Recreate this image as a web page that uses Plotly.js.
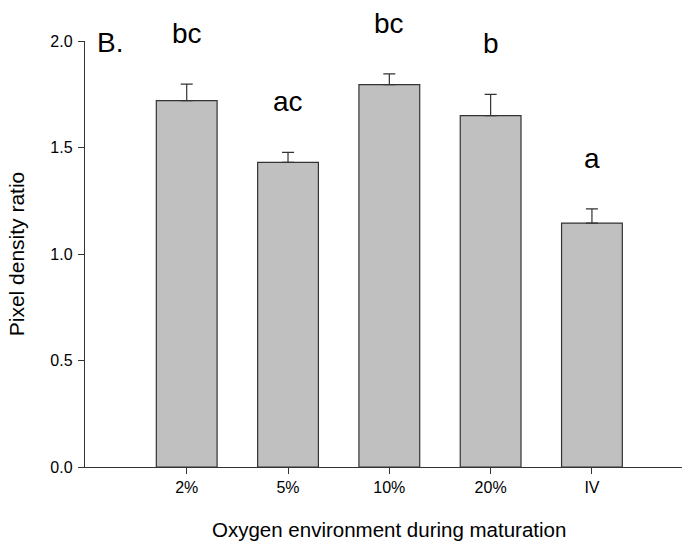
<!DOCTYPE html>
<html>
<head>
<meta charset="utf-8">
<script src="https://cdn.plot.ly/plotly-3.0.1.min.js"></script>
<style>html,body{margin:0;padding:0;background:#fff;}#chart{width:682px;height:542px;}</style>
</head>
<body>
<div id="chart"></div>
<script>
var categories = ["2%", "5%", "10%", "20%", "IV"];
var means = [1.72, 1.43, 1.795, 1.65, 1.145];
var errors = [0.078, 0.047, 0.051, 0.099, 0.067];
var groupLetters = ["bc", "ac", "bc", "b", "a"];
var yTickVals = [0, 0.5, 1.0, 1.5, 2.0];
var yTickText = ["0.0", "0.5", "1.0", "1.5", "2.0"];

var FONT = "Liberation Sans, Arial, Helvetica, sans-serif";
var dark = "#333333";

var trace = {
  type: "bar",
  x: categories,
  y: means,
  width: 0.6,
  marker: {color: "#c0c0c0", line: {color: dark, width: 1.2}},
  error_y: {type: "data", array: errors, symmetric: false, arrayminus: errors.map(function(){return 0;}), color: dark, thickness: 1.2, width: 6},
  hoverinfo: "skip"
};

var annotations = categories.map(function(c, i){
  return {
    x: c, y: means[i] + errors[i], xref: "x", yref: "y", yshift: 33,
    text: groupLetters[i], showarrow: false, yanchor: "bottom", xanchor: "center",
    font: {family: FONT, size: 28, color: "#000"}
  };
});
annotations.push({
  x: 0, y: 1, xref: "paper", yref: "paper", xshift: 10, yshift: 16,
  text: "B.", showarrow: false, xanchor: "left", yanchor: "top",
  font: {family: FONT, size: 28, color: "#000"}
});
annotations.push({
  x: 0.51, y: 0, xref: "paper", yref: "paper", yshift: -49,
  text: "Oxygen environment during maturation", showarrow: false, xanchor: "center", yanchor: "top",
  font: {family: FONT, size: 20.5, color: "#000"}
});

var layout = {
  width: 682, height: 542,
  margin: {l: 85, r: 0, t: 41, b: 75, pad: 0},
  paper_bgcolor: "#fff", plot_bgcolor: "#fff",
  showlegend: false,
  font: {family: FONT, color: "#000"},
  xaxis: {
    type: "category",
    range: [-1.004, 4.889],
    showgrid: false, zeroline: false,
    showline: true, linecolor: dark, linewidth: 1.2,
    ticks: "outside", ticklen: 6, tickcolor: dark, tickwidth: 1,
    tickfont: {family: FONT, size: 16, color: "#000"}
  },
  yaxis: {
    range: [0, 2.0],
    tickvals: yTickVals, ticktext: yTickText,
    showgrid: false, zeroline: false,
    showline: true, linecolor: dark, linewidth: 1.2,
    ticks: "outside", ticklen: 6, tickcolor: dark, tickwidth: 1,
    ticklabelstandoff: 2,
    tickfont: {family: FONT, size: 16, color: "#000"},
    title: {text: "Pixel density ratio", font: {family: FONT, size: 21, color: "#000"}, standoff: 20}
  },
  annotations: annotations
};

Plotly.newPlot("chart", [trace], layout, {displayModeBar: false, staticPlot: true});
</script>
</body>
</html>
